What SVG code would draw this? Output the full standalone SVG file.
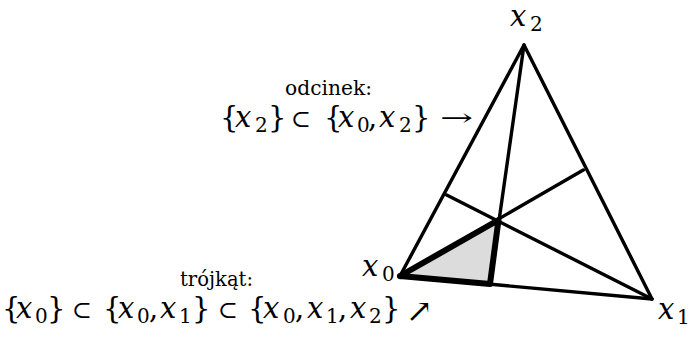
<svg xmlns="http://www.w3.org/2000/svg" width="690" height="341" viewBox="0 0 690 341">
<style>
.t{font-family:"DejaVu Serif","Liberation Serif",serif;fill:#000}
.m{font-size:29px}
.i{font-style:italic}
.s{font-size:20px}
.sym{font-size:24px}
.lab{font-size:20px}
.edge{stroke:#000;stroke-width:3.4;fill:none;stroke-linejoin:round;stroke-linecap:round}
.thick{stroke:#000;stroke-width:6;fill:none;stroke-linejoin:round;stroke-linecap:round}
</style>
<g id="simplex">
<polygon points="400,276 498.5,220 490,284" fill="#dcdcdc" stroke="none"/>
<polygon class="edge" points="524,45 400,276 652,299"/>
<g id="connectors">
<line class="edge" x1="524" y1="45" x2="490" y2="284"/>
<line class="edge" x1="446.7" y1="195" x2="652" y2="299"/>
<line class="edge" x1="583.3" y1="170" x2="400" y2="276"/>
<polyline class="thick" points="400,276 498.5,220 490,284 400,276"/>
</g>
</g>
<g id="vertex-x2"><text class="t m" y="26"><tspan class="i" x="510">x</tspan><tspan class="s" x="530" dy="5">2</tspan></text></g>
<g id="vertex-x0"><text class="t m" y="276"><tspan class="i" x="362">x</tspan><tspan class="s" x="382" dy="5">0</tspan></text></g>
<g id="vertex-x1"><text class="t m" y="319"><tspan class="i" x="658">x</tspan><tspan class="s" x="677" dy="5">1</tspan></text></g>
<g id="label-odcinek">
<text class="t lab" x="285" y="95" textLength="87" lengthAdjust="spacingAndGlyphs">odcinek:</text>
<text class="t m" y="127"><tspan x="220">{</tspan><tspan class="i" x="235">x</tspan><tspan class="s" x="255" dy="5">2</tspan><tspan x="268" dy="-5">} </tspan><tspan class="sym" x="291">⊂ </tspan><tspan x="324">{</tspan><tspan class="i" x="338">x</tspan><tspan class="s" x="357" dy="5">0</tspan><tspan x="368" dy="-5">, </tspan><tspan class="i" x="379">x</tspan><tspan class="s" x="399" dy="5">2</tspan><tspan x="412" dy="-5">} </tspan></text>
<text class="t sym" x="440" y="126" textLength="33" lengthAdjust="spacingAndGlyphs">→</text>
</g>
<g id="label-trojkat">
<text class="t lab" x="180" y="286" textLength="73" lengthAdjust="spacingAndGlyphs">trójkąt:</text>
<text class="t m" y="318"><tspan x="2">{</tspan><tspan class="i" x="16">x</tspan><tspan class="s" x="35" dy="5">0</tspan><tspan x="47" dy="-5">} </tspan><tspan class="sym" x="72">⊂ </tspan><tspan x="103">{</tspan><tspan class="i" x="118">x</tspan><tspan class="s" x="137" dy="5">0</tspan><tspan x="149" dy="-5">, </tspan><tspan class="i" x="160">x</tspan><tspan class="s" x="179" dy="5">1</tspan><tspan x="192" dy="-5">} </tspan><tspan class="sym" x="218">⊂ </tspan><tspan x="248">{</tspan><tspan class="i" x="263">x</tspan><tspan class="s" x="283" dy="5">0</tspan><tspan x="295" dy="-5">, </tspan><tspan class="i" x="307">x</tspan><tspan class="s" x="326" dy="5">1</tspan><tspan x="338" dy="-5">, </tspan><tspan class="i" x="350">x</tspan><tspan class="s" x="369" dy="5">2</tspan><tspan x="382" dy="-5">} </tspan></text>
<text class="t" x="406" y="322" font-size="32">↗</text>
</g>
</svg>
